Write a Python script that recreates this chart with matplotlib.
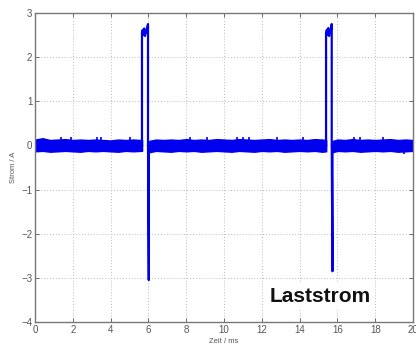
import numpy as np
import matplotlib
matplotlib.use("Agg")
import matplotlib.pyplot as plt

# ---- data ----
# baseline noise band (envelope), gaps where the pulses are
band_t = [0.0, 0.4, 0.8, 1.2, 1.6, 2.0, 2.4, 2.8, 3.2, 3.6, 4.0, 4.4, 4.8, 5.2, 5.6, 5.66,
          6.05, 6.4, 6.8, 7.2, 7.6, 8.0, 8.4, 8.8, 9.2, 9.6, 10.0, 10.4, 10.8, 11.2, 11.6,
          12.0, 12.4, 12.8, 13.2, 13.6, 14.0, 14.4, 14.8, 15.2, 15.4,
          15.75, 16.0, 16.4, 16.8, 17.2, 17.6, 18.0, 18.4, 18.8, 19.2, 19.6, 20.0]
band_hi = [0.13, 0.16, 0.12, 0.13, 0.14, 0.12, 0.13, 0.12, 0.13, 0.12, 0.11, 0.13, 0.12, 0.13, 0.12, 0.12,
           0.10, 0.13, 0.12, 0.13, 0.12, 0.14, 0.12, 0.13, 0.12, 0.14, 0.13, 0.12, 0.14, 0.13, 0.12,
           0.13, 0.14, 0.12, 0.13, 0.12, 0.13, 0.12, 0.14, 0.13, 0.12,
           0.10, 0.13, 0.12, 0.14, 0.12, 0.13, 0.12, 0.13, 0.14, 0.12, 0.13, 0.12]
band_lo = [-0.13, -0.12, -0.14, -0.13, -0.12, -0.13, -0.14, -0.12, -0.13, -0.12, -0.13, -0.14, -0.12, -0.13, -0.12, -0.12,
           -0.15, -0.12, -0.13, -0.14, -0.12, -0.13, -0.12, -0.14, -0.13, -0.12, -0.13, -0.14, -0.12, -0.13, -0.14,
           -0.12, -0.13, -0.12, -0.14, -0.13, -0.12, -0.13, -0.12, -0.14, -0.13,
           -0.15, -0.12, -0.13, -0.12, -0.14, -0.13, -0.12, -0.13, -0.12, -0.14, -0.13, -0.12]
# occasional spikes above/below the band
spike_t = [1.4, 1.9, 3.3, 3.5, 5.0, 8.2, 9.1, 10.7, 11.0, 11.3, 12.8, 14.2, 16.9, 17.2, 18.4, 19.5]
spike_v = [0.20, 0.19, 0.18, 0.19, 0.19, 0.19, 0.20, 0.19, 0.20, 0.19, 0.19, 0.18, 0.20, 0.19, 0.19, -0.20]

# pulse 1
p1_t = [5.66, 5.66, 5.70, 5.74, 5.78, 5.82, 5.86, 5.90, 5.94, 5.98, 5.98, 6.02, 6.02]
p1_v = [0.0, 2.55, 2.62, 2.50, 2.65, 2.48, 2.60, 2.55, 2.68, 2.75, 0.0, -3.05, 0.0]
# pulse 2
p2_t = [15.40, 15.40, 15.44, 15.48, 15.52, 15.56, 15.60, 15.64, 15.68, 15.70, 15.70, 15.74, 15.74]
p2_v = [0.0, 2.55, 2.62, 2.50, 2.66, 2.48, 2.60, 2.55, 2.68, 2.75, 0.0, -2.85, 0.0]

x_ticks = [0, 2, 4, 6, 8, 10, 12, 14, 16, 18, 20]
y_ticks = [-4, -3, -2, -1, 0, 1, 2, 3]

blue = "#0000ee"

plt.rcParams['font.family'] = ['Liberation Sans', 'DejaVu Sans']
fig = plt.figure(figsize=(4.16, 3.48), dpi=100)
ax = fig.add_axes([35/416, 1 - 322/348, (413-35)/416, (322-13)/348])

# draw band segments separately (gaps at the pulses)
segs = [(0.0, 5.66), (6.05, 15.4), (15.75, 20.0)]
for s0, s1 in segs:
    idx = [i for i, t in enumerate(band_t) if s0 <= t <= s1]
    ax.fill_between([band_t[i] for i in idx], [band_lo[i] for i in idx],
                    [band_hi[i] for i in idx], color=blue, lw=1.2, edgecolor=blue)
ax.vlines(spike_t, 0, spike_v, color=blue, lw=1.2)
ax.plot(p1_t, p1_v, color=blue, lw=1.6)
ax.plot(p2_t, p2_v, color=blue, lw=1.6)

ax.set_xlim(0, 20)
ax.set_ylim(-4, 3)
ax.set_xticks(x_ticks)
ax.set_yticks(y_ticks)
ax.tick_params(direction='in', top=True, right=True, labelsize=7, colors='#555555',
               length=3, width=0.6, pad=2)
for sp in ax.spines.values():
    sp.set_color('#777777')
    sp.set_linewidth(1.0)
ax.grid(True, linestyle=(0, (1, 2)), color='#bbbbbb', linewidth=0.7)
ax.set_axisbelow(True)
ax.set_xlabel('Zeit / ms', fontsize=5.5, color='#555555', labelpad=2)
ax.set_ylabel('Strom / A', fontsize=5.5, color='#555555', labelpad=3)

ax.text(15.08, -3.42, 'Laststrom', fontsize=15, fontweight='bold', color='#111111',
        ha='center', va='center',
        bbox=dict(facecolor='white', edgecolor='none', pad=3))

fig.savefig('out.png', dpi=100)
